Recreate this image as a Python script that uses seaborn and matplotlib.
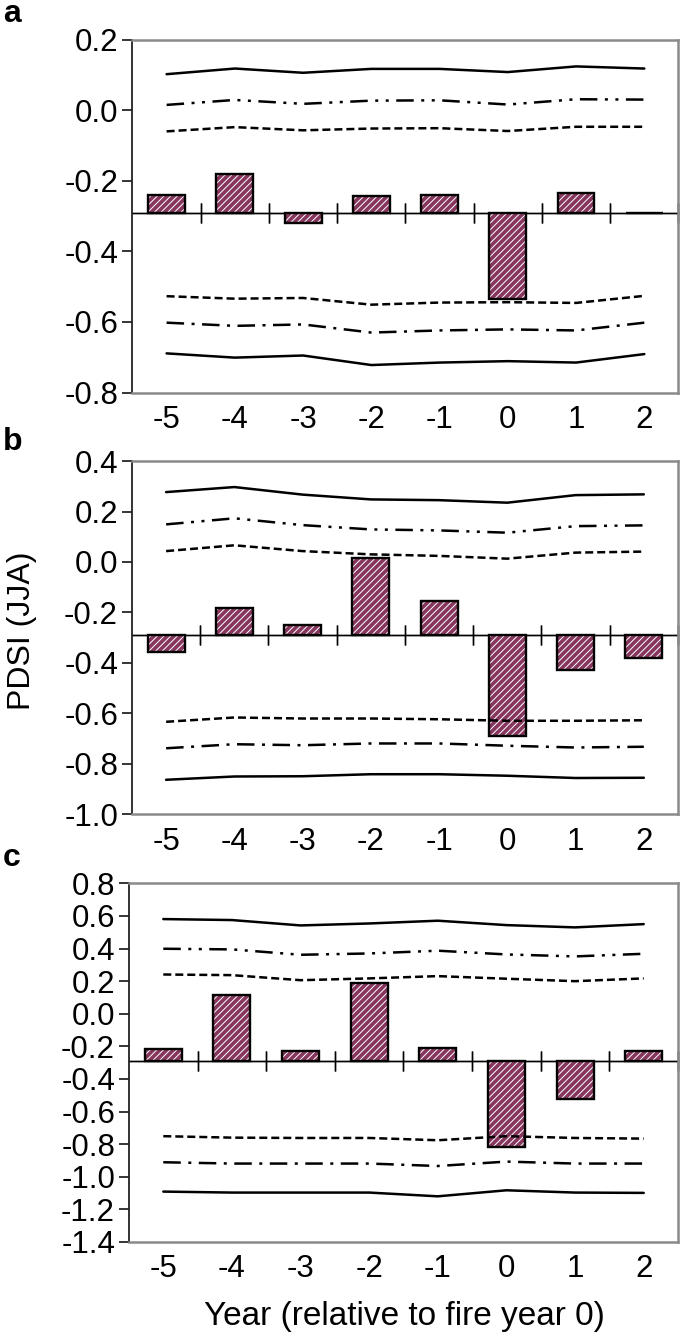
import numpy as np
import pandas as pd
import matplotlib
matplotlib.use('Agg')
import matplotlib.pyplot as plt
import seaborn as sns

sns.set_theme(style='white')
plt.rcParams['font.family'] = ['Liberation Sans', 'DejaVu Sans']
plt.rcParams['axes.unicode_minus'] = False
plt.rcParams['hatch.linewidth'] = 0.7
plt.rcParams['text.color'] = 'black'
plt.rcParams['xtick.color'] = 'black'
plt.rcParams['ytick.color'] = 'black'

years = [-5, -4, -3, -2, -1, 0, 1, 2]
base = -0.29  # long-term mean PDSI, bars hang from it

# panel a
a_pdsi = [-0.239, -0.180, -0.320, -0.242, -0.240, -0.536, -0.236, -0.292]
a_hi99 = [0.102, 0.118, 0.106, 0.117, 0.117, 0.108, 0.124, 0.118]
a_hi95 = [0.015, 0.029, 0.018, 0.027, 0.028, 0.016, 0.031, 0.030]
a_hi90 = [-0.060, -0.048, -0.057, -0.052, -0.051, -0.059, -0.047, -0.047]
a_lo90 = [-0.527, -0.534, -0.532, -0.551, -0.545, -0.544, -0.546, -0.526]
a_lo95 = [-0.602, -0.611, -0.607, -0.630, -0.624, -0.621, -0.624, -0.602]
a_lo99 = [-0.689, -0.701, -0.695, -0.722, -0.715, -0.711, -0.715, -0.691]

# panel b
b_pdsi = [-0.356, -0.182, -0.251, 0.017, -0.156, -0.692, -0.428, -0.382]
b_hi99 = [0.277, 0.297, 0.267, 0.248, 0.245, 0.235, 0.265, 0.268]
b_hi95 = [0.149, 0.173, 0.146, 0.129, 0.125, 0.116, 0.142, 0.145]
b_hi90 = [0.043, 0.066, 0.043, 0.030, 0.024, 0.013, 0.037, 0.041]
b_lo90 = [-0.634, -0.617, -0.621, -0.621, -0.624, -0.630, -0.630, -0.628]
b_lo95 = [-0.739, -0.723, -0.727, -0.720, -0.720, -0.729, -0.736, -0.733]
b_lo99 = [-0.864, -0.851, -0.850, -0.842, -0.842, -0.848, -0.857, -0.856]

# panel c
c_pdsi = [-0.215, 0.118, -0.229, 0.190, -0.211, -0.817, -0.520, -0.229]
c_hi99 = [0.581, 0.575, 0.542, 0.554, 0.571, 0.544, 0.530, 0.550]
c_hi95 = [0.399, 0.395, 0.362, 0.370, 0.387, 0.364, 0.352, 0.368]
c_hi90 = [0.241, 0.237, 0.206, 0.217, 0.231, 0.215, 0.200, 0.217]
c_lo90 = [-0.751, -0.760, -0.762, -0.762, -0.776, -0.751, -0.762, -0.766]
c_lo95 = [-0.911, -0.919, -0.919, -0.919, -0.934, -0.907, -0.919, -0.919]
c_lo99 = [-1.091, -1.097, -1.097, -1.097, -1.120, -1.083, -1.097, -1.099]

bar_col = '#94285e'
box_col = '#8a8a8a'
dashed = (0, (3.2, 1.6))
dashdotdot = (0, (7, 3, 1.2, 3, 1.2, 3))
dashdot = (0, (7, 3, 1.2, 3))
fs = 22.5


def draw_panel(ax, pdsi, bands, ylim, ystep):
    df = pd.DataFrame({'year': years, 'dev': np.array(pdsi) - base})
    # hatched fill, then black outline on top
    sns.barplot(data=df, x='year', y='dev', bottom=base, native_scale=True,
                width=0.54, color=bar_col, edgecolor='white', hatch='/////',
                linewidth=0, errorbar=None, ax=ax, zorder=2)
    sns.barplot(data=df, x='year', y='dev', bottom=base, native_scale=True,
                width=0.54, color='black', fill=False, linewidth=1.7,
                errorbar=None, ax=ax, zorder=3)

    styles = ['-', dashdotdot, dashed, dashed, dashdot, '-']
    for vals, ls in zip(bands, styles):
        sns.lineplot(x=years, y=vals, color='black', linewidth=1.8,
                     linestyle=ls, ax=ax, zorder=4)

    ax.set_xlim(-5.5, 2.5)
    ax.set_ylim(*ylim)
    yt = np.round(np.arange(ylim[0], ylim[1] + 1e-9, ystep), 1) + 0.0
    ax.set_yticks(yt)
    ax.set_yticklabels([f'{abs(v):.1f}' if abs(v) < 1e-9 else f'{v:.1f}' for v in yt])
    ax.set_xticks(years)
    ax.set_xticklabels([str(y) for y in years])
    ax.tick_params(axis='x', length=0, pad=9, labelsize=fs)
    ax.tick_params(axis='y', direction='out', length=7, width=1.1,
                   color='black', left=True, pad=3, labelsize=fs)
    ax.set_xlabel('')
    ax.set_ylabel('')
    for s in ['top', 'right', 'bottom']:
        ax.spines[s].set_color(box_col)
        ax.spines[s].set_linewidth(1.8)
    ax.spines['left'].set_color('#222222')
    ax.spines['left'].set_linewidth(1.3)

    # x axis line at the mean, with ticks between years
    sec = ax.secondary_xaxis(base, transform=ax.transData)
    sec.set_xticks(np.arange(-4.5, 3.0, 1.0))
    sec.tick_params(direction='inout', length=15, width=1.0, color='black',
                    labeltop=False, labelbottom=False, top=True, bottom=True)
    for sp in sec.spines.values():
        sp.set_color('black')
        sp.set_linewidth(1.0)
    ax.axhline(base, color='black', linewidth=1.0, zorder=1)


fig = plt.figure(figsize=(6.85, 13.33), dpi=100)
ax_a = fig.add_axes([0.1934, 0.7055, 0.797, 0.2648])
ax_b = fig.add_axes([0.1927, 0.3893, 0.797, 0.2648])
ax_c = fig.add_axes([0.1883, 0.0683, 0.8015, 0.269])

draw_panel(ax_a, a_pdsi, [a_hi99, a_hi95, a_hi90, a_lo90, a_lo95, a_lo99], (-0.8, 0.2), 0.2)
draw_panel(ax_b, b_pdsi, [b_hi99, b_hi95, b_hi90, b_lo90, b_lo95, b_lo99], (-1.0, 0.4), 0.2)
draw_panel(ax_c, c_pdsi, [c_hi99, c_hi95, c_hi90, c_lo90, c_lo95, c_lo99], (-1.4, 0.8), 0.2)

for letter, y in [('a', 0.9835), ('b', 0.6624), ('c', 0.3503)]:
    fig.text(0.004, y, letter, fontsize=23, fontweight='bold', va='baseline', ha='left')

fig.text(0.032, 0.527, 'PDSI (JJA)', rotation=90, fontsize=23, va='center', ha='center')
fig.text(0.59, 0.0125, 'Year (relative to fire year 0)', fontsize=24, va='center', ha='center')

fig.savefig('out.png', dpi=100)
